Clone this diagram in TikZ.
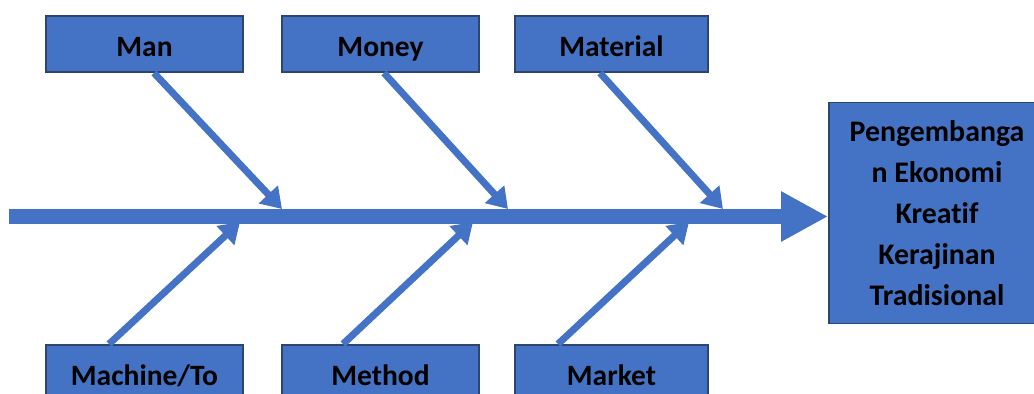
\documentclass[tikz,border=0pt]{standalone}
\usepackage{fontspec}
\setmainfont{Carlito}[Ligatures=NoCommon]
\usetikzlibrary{arrows.meta,calc}
\definecolor{boxblue}{HTML}{4472C4}
\definecolor{boxline}{HTML}{2C4670}

\begin{document}
\begin{tikzpicture}[x=0.02cm,y=-0.02cm,
  cause/.style={draw=boxline,line width=1.1pt,fill=boxblue,inner sep=0pt,
    minimum width=3.94cm,minimum height=1.12cm,text height=14pt,text depth=0pt,
    font=\bfseries\fontsize{16.8}{23.4}\selectfont},
  effectbox/.style={cause,text height=,text depth=,align=center,
    minimum width=4.32cm,minimum height=4.42cm,
    font=\bfseries\fontsize{17}{23.4}\selectfont},
  bone/.style={draw=boxblue,line width=0.14cm,-{Triangle[length=0.4cm,width=0.5cm]}},
  spine/.style={draw=boxblue,line width=0.3cm,-{Triangle[length=0.94cm,width=0.94cm]}}]
\clip (0,0) rectangle (1034,394);
% causes above the spine
\node[cause] (man) at (144.5,44) {Man};
\node[cause] (money) at (380.5,44) {Money};
\node[cause,minimum width=3.86cm] (material) at (611.5,44) {Material};
% causes below the spine
\node[cause] (machine) at (144.5,373) {Machine/To};
\node[cause] (method) at (380.5,373) {Method};
\node[cause,minimum width=3.86cm] (market) at (611.5,373) {Market};
% the effect at the head
\node[effectbox] (effect) at (937,213)
  {Pengembanga\\n Ekonomi\\Kreatif\\Kerajinan\\Tradisional};
% spine
\coordinate (tail) at (9,216.5);
\draw[spine] (tail) -- (tail -| effect.west);
% where the bones meet the spine
\coordinate (m1) at (282,209);
\coordinate (m2) at (508,209);
\coordinate (m3) at (723,209);
\coordinate (b1) at (240,222);
\coordinate (b2) at (473,222);
\coordinate (b3) at (689,222);
\draw[bone] ($(man.south)+(9.5,0)$) -- (m1);
\draw[bone] ($(money.south)+(3.5,0)$) -- (m2);
\draw[bone] ($(material.south)+(-11.5,0)$) -- (m3);
\draw[bone] ($(machine.north)+(-35.5,0)$) -- (b1);
\draw[bone] ($(method.north)+(-37.5,0)$) -- (b2);
\draw[bone] ($(market.north)+(-53.5,0)$) -- (b3);
\end{tikzpicture}
\end{document}
